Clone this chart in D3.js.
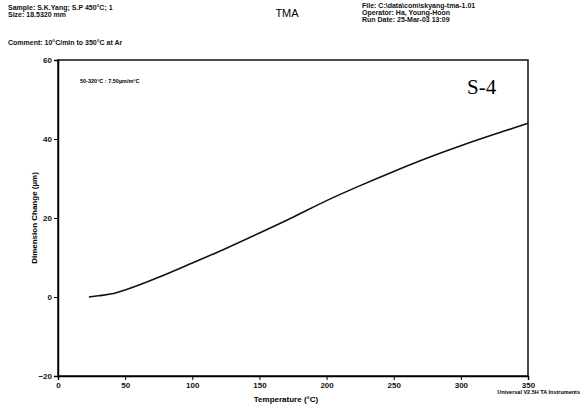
<!DOCTYPE html>
<html>
<head>
<meta charset="utf-8">
<script src="https://cdn.jsdelivr.net/npm/d3@7"></script>
<style>
	body { margin: 0; background: #fff; }
	svg { display: block; font-family: 'Liberation Sans', Arial, sans-serif; }
	.hdr { font-size: 7px; font-weight: bold; fill: #111; }
	.tick text { font-size: 8px; font-weight: bold; fill: #111; }
</style>
</head>
<body>
<div id="canvas"></div>
<script>
// Data
var temperature = [23, 30, 40, 50, 75, 100, 125, 150, 175, 200, 225, 250, 275, 300, 325, 350],
	dimChange = [0, 0.3, 0.8, 1.8, 5.0, 8.6, 12.3, 16.2, 20.2, 24.4, 28.2, 31.8, 35.2, 38.3, 41.2, 44.0],
	xTicks = [0, 50, 100, 150, 200, 250, 300, 350],
	yTicks = [-20, 0, 20, 40, 60];

var width = 584, height = 408,
	margin = { left: 58, right: 56, top: 60, bottom: 32 };

var svg = d3.select('#canvas').append('svg')
	.attr('width', width)
	.attr('height', height);

var x = d3.scaleLinear().domain([0, 350]).range([margin.left, width - margin.right]),
	y = d3.scaleLinear().domain([-20, 60]).range([height - margin.bottom, margin.top]);

// Header texts
var hdr = svg.append('g').attr('class', 'hdr');
hdr.append('text').attr('x', 8).attr('y', 10).text('Sample: S.K.Yang; S.P 450°C; 1');
hdr.append('text').attr('x', 8).attr('y', 17).text('Size:   18.5320 mm');
hdr.append('text').attr('x', 8).attr('y', 45).text('Comment: 10°C/min to 350°C at Ar');
hdr.append('text').attr('x', 362).attr('y', 8).text('File: C:\\data\\com\\skyang-tma-1.01');
hdr.append('text').attr('x', 362).attr('y', 15).text('Operator: Ha, Young-Hoon');
hdr.append('text').attr('x', 362).attr('y', 22).text('Run Date: 25-Mar-03 13:09');
svg.append('text')
	.attr('x', 287).attr('y', 17)
	.attr('text-anchor', 'middle')
	.style('font-size', '11px')
	.text('TMA');

// Frame
svg.append('rect')
	.attr('x', x(0)).attr('y', y(60))
	.attr('width', x(350) - x(0)).attr('height', y(-20) - y(60))
	.attr('fill', 'none')
	.attr('stroke', '#111')
	.attr('stroke-width', 1.5);

// Axes
svg.append('g')
	.attr('transform', 'translate(0,' + y(-20) + ')')
	.call(d3.axisBottom(x).tickValues(xTicks).tickSize(4).tickPadding(2))
	.call(function(g) { g.select('.domain').attr('stroke-width', 1.5); });

svg.append('g')
	.attr('transform', 'translate(' + x(0) + ',0)')
	.call(d3.axisLeft(y).tickValues(yTicks).tickSize(4).tickPadding(2))
	.call(function(g) { g.select('.domain').attr('stroke-width', 1.5); });

// Axis labels
svg.append('text')
	.attr('x', 286).attr('y', 402)
	.attr('text-anchor', 'middle')
	.style('font-size', '8px').style('font-weight', 'bold')
	.text('Temperature (°C)');

svg.append('text')
	.attr('transform', 'translate(37,' + y(20) + ') rotate(-90)')
	.attr('text-anchor', 'middle')
	.style('font-size', '8px').style('font-weight', 'bold')
	.text('Dimension Change (µm)');

svg.append('text')
	.attr('x', 580).attr('y', 394)
	.attr('text-anchor', 'end')
	.style('font-size', '5.5px').style('font-weight', 'bold')
	.text('Universal V2.5H TA Instruments');

// Annotations
svg.append('text')
	.attr('x', 80).attr('y', 83)
	.style('font-size', '5.5px').style('font-weight', 'bold')
	.text('50-320°C : 7.50µm/m°C');

svg.append('text')
	.attr('x', 467).attr('y', 94)
	.style('font-family', "'Liberation Serif', 'DejaVu Serif', serif")
	.style('font-size', '21px')
	.text('S-4');

// Curve
var line = d3.line()
	.x(function(d, i) { return x(temperature[i]); })
	.y(function(d) { return y(d); })
	.curve(d3.curveMonotoneX);

svg.append('path')
	.datum(dimChange)
	.attr('d', line)
	.attr('fill', 'none')
	.attr('stroke', '#111')
	.attr('stroke-width', 1.6);
</script>
</body>
</html>
